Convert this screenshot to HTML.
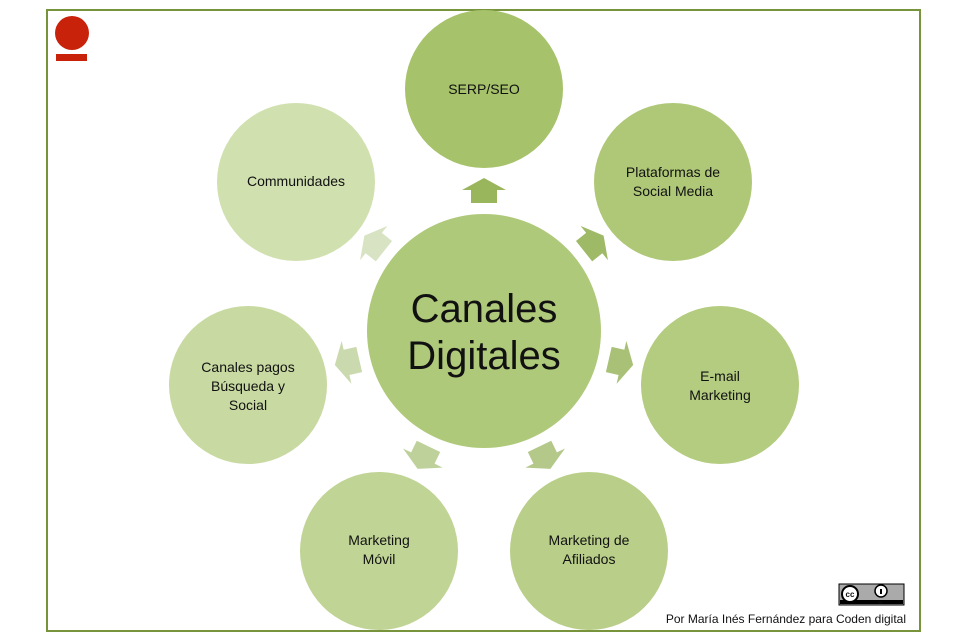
<!DOCTYPE html>
<html><head><meta charset="utf-8"><style>
html,body{margin:0;padding:0;background:#fff;}
svg{display:block;}
text{font-family:"Liberation Sans",Arial,sans-serif;fill:#111;}
</style></head><body>
<svg width="960" height="638" viewBox="0 0 960 638">
<rect x="47" y="10" width="873" height="621" fill="#fff" stroke="#77933c" stroke-width="2"/>
<circle cx="72" cy="33" r="17" fill="#c8220a"/>
<rect x="56" y="54" width="31" height="7" fill="#c8220a"/>
<g transform="translate(484,331)">
<g id="ar"><polygon points="0,-153 22,-141 13,-141 13,-128 -13,-128 -13,-141 -22,-141" fill="#9ab65c"/></g>
<g transform="rotate(51.43)"><polygon points="0,-153 22,-141 13,-141 13,-128 -13,-128 -13,-141 -22,-141" fill="#9fba66"/></g>
<g transform="rotate(102.86)"><polygon points="0,-153 22,-141 13,-141 13,-128 -13,-128 -13,-141 -22,-141" fill="#a8c176"/></g>
<g transform="rotate(154.29)"><polygon points="0,-153 22,-141 13,-141 13,-128 -13,-128 -13,-141 -22,-141" fill="#b3c889"/></g>
<g transform="rotate(205.71)"><polygon points="0,-153 22,-141 13,-141 13,-128 -13,-128 -13,-141 -22,-141" fill="#bfd19b"/></g>
<g transform="rotate(257.14)"><polygon points="0,-153 22,-141 13,-141 13,-128 -13,-128 -13,-141 -22,-141" fill="#cbdaae"/></g>
<g transform="rotate(308.57)"><polygon points="0,-153 22,-141 13,-141 13,-128 -13,-128 -13,-141 -22,-141" fill="#d8e3c4"/></g>
</g>
<circle cx="484" cy="331" r="117" fill="#afc97a"/>
<circle cx="484" cy="89" r="79" fill="#a6c26a"/>
<circle cx="673" cy="182" r="79" fill="#afc877"/>
<circle cx="720" cy="385" r="79" fill="#b4cc80"/>
<circle cx="589" cy="551" r="79" fill="#b9cf89"/>
<circle cx="379" cy="551" r="79" fill="#c0d495"/>
<circle cx="248" cy="385" r="79" fill="#c8daa2"/>
<circle cx="296" cy="182" r="79" fill="#d0e0af"/>
<g font-size="40" text-anchor="middle"><text x="484" y="322">Canales</text><text x="484" y="369">Digitales</text></g>
<g font-size="14" text-anchor="middle">
<text x="484" y="94">SERP/SEO</text>
<text x="673" y="177">Plataformas de</text><text x="673" y="196">Social Media</text>
<text x="720" y="381">E-mail</text><text x="720" y="400">Marketing</text>
<text x="589" y="545">Marketing de</text><text x="589" y="564">Afiliados</text>
<text x="379" y="545">Marketing</text><text x="379" y="564">Móvil</text>
<text x="248" y="372">Canales pagos</text><text x="248" y="391">Búsqueda y</text><text x="248" y="410">Social</text>
<text x="296" y="186">Communidades</text>
</g>
<g>
<rect x="839" y="584" width="65" height="21" fill="#aaa" stroke="#000" stroke-width="1"/>
<rect x="840" y="600" width="63" height="4" fill="#000"/>
<circle cx="850" cy="594" r="8" fill="#fff" stroke="#000" stroke-width="2"/>
<text x="850" y="597" font-size="8" text-anchor="middle" font-weight="bold">cc</text>
<circle cx="881" cy="591" r="6" fill="#fff" stroke="#000" stroke-width="1.5"/>
<rect x="880" y="589" width="2" height="5" fill="#000"/>
<text x="881" y="604" font-size="4" fill="#fff" text-anchor="middle">BY</text>
</g>
<text x="906" y="623" font-size="12" text-anchor="end">Por María Inés Fernández para Coden digital</text>
</svg>
</body></html>
